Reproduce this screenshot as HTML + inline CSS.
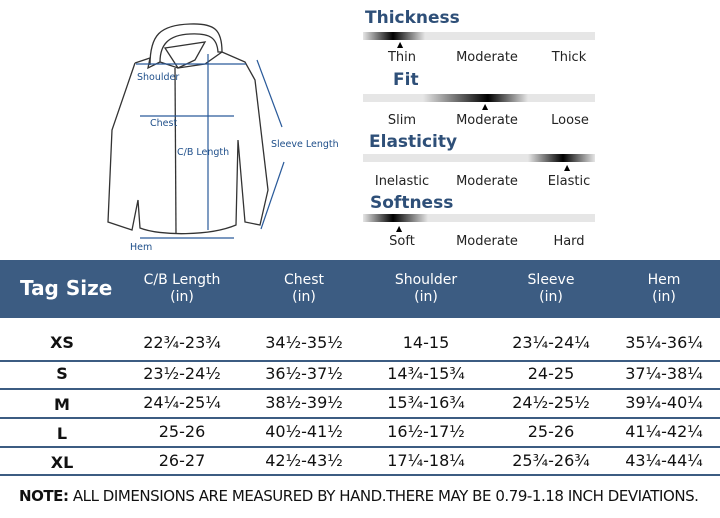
<!DOCTYPE html>
<html><head><meta charset="utf-8"><style>
body{margin:0;width:720px;height:518px;background:#fff;position:relative;overflow:hidden;font-family:"DejaVu Sans","Liberation Sans",sans-serif}
.a{position:absolute;white-space:nowrap}
.h{color:#fff;text-align:center;font-size:14px;line-height:17px;transform:translateX(-50%)}
.c{font-size:16px;color:#111;transform:translateX(-50%);text-align:center}
.t{font-weight:bold;font-size:17px;color:#2e4f78}
.l{font-size:13px;color:#222;transform:translateX(-50%)}
.bar{position:absolute;left:363px;width:232px;height:8px;background:#e6e6e6}
.sep{position:absolute;left:0;width:720px;height:2px;background:#3c5c82}
</style></head><body>
<svg class="a" style="left:0;top:0" width="350" height="258">
<g fill="none" stroke="#333" stroke-width="1.3">
<path d="M150 65 C150 35 160 25 190 24 C215 23 222 30 222 52 L218 52 C217 38 210 33 190 34 C168 35 160 45 160 62"/>
<path d="M165 48 L205 42 L195 60 L178 68 Z"/>
<path d="M135 63 L150 58 L148 68 L160 62 L178 68 L205 64 L222 52 L245 62 L255 80 L268 190 L260 225 L245 222 L238 140 L236 225 C210 236 160 236 140 228 L138 200 L132 230 L108 222 L112 130 L135 63"/>
<path d="M175 68 L176 234"/>
</g>
<g stroke="#2a5a9a" stroke-width="1.2" fill="#2a5a9a">
<line x1="136" y1="64" x2="246" y2="64"/>
<line x1="140" y1="116" x2="234" y2="116"/>
<line x1="208" y1="54" x2="208" y2="230"/>
<line x1="140" y1="238" x2="234" y2="238"/>
<line x1="257" y1="60" x2="282" y2="127"/>
<line x1="284" y1="162" x2="261" y2="229"/>
</g>
<g font-size="9.5" fill="#1f4f8a" font-family="DejaVu Sans,sans-serif">
<text x="137" y="80">Shoulder</text><text x="150" y="126">Chest</text>
<text x="177" y="155">C/B Length</text><text x="271" y="147">Sleeve Length</text>
<text x="130" y="250">Hem</text></g>
</svg>
<div class="a t" style="left:365px;top:8px">Thickness</div>
<div class="bar" style="top:32px;background:linear-gradient(90deg,#e6e6e6 0px,#000 30px,#e6e6e6 62px,#e6e6e6)"></div>
<div class="a" style="left:397px;top:40px;font-size:8px">▲</div>
<div class="a l" style="left:402px;top:50px">Thin</div><div class="a l" style="left:487px;top:50px">Moderate</div><div class="a l" style="left:569px;top:50px">Thick</div>
<div class="a t" style="left:393px;top:70px">Fit</div>
<div class="bar" style="top:94px;background:linear-gradient(90deg,#e6e6e6 60px,#000 125px,#e6e6e6 165px,#e6e6e6)"></div>
<div class="a" style="left:482px;top:102px;font-size:8px">▲</div>
<div class="a l" style="left:402px;top:113px">Slim</div><div class="a l" style="left:487px;top:113px">Moderate</div><div class="a l" style="left:570px;top:113px">Loose</div>
<div class="a t" style="left:369px;top:132px">Elasticity</div>
<div class="bar" style="top:154px;background:linear-gradient(90deg,#e6e6e6 165px,#000 200px,#e6e6e6 232px)"></div>
<div class="a" style="left:564px;top:163px;font-size:8px">▲</div>
<div class="a l" style="left:402px;top:174px">Inelastic</div><div class="a l" style="left:487px;top:174px">Moderate</div><div class="a l" style="left:569px;top:174px">Elastic</div>
<div class="a t" style="left:370px;top:193px">Softness</div>
<div class="bar" style="top:214px;background:linear-gradient(90deg,#e6e6e6 0px,#000 30px,#e6e6e6 65px,#e6e6e6)"></div>
<div class="a" style="left:396px;top:224px;font-size:8px">▲</div>
<div class="a l" style="left:402px;top:234px">Soft</div><div class="a l" style="left:487px;top:234px">Moderate</div><div class="a l" style="left:569px;top:234px">Hard</div>

<div class="a" style="left:0;top:260px;width:720px;height:58px;background:#3c5c82"></div>
<div class="a" style="left:20px;top:276px;color:#fff;font-weight:bold;font-size:20px">Tag Size</div>
<div class="a h" style="left:182px;top:272px">C/B Length<br>(in)</div>
<div class="a h" style="left:304px;top:272px">Chest<br>(in)</div>
<div class="a h" style="left:426px;top:272px">Shoulder<br>(in)</div>
<div class="a h" style="left:551px;top:272px">Sleeve<br>(in)</div>
<div class="a h" style="left:664px;top:272px">Hem<br>(in)</div>
<div class="sep" style="top:360px"></div><div class="sep" style="top:388px"></div><div class="sep" style="top:417px"></div><div class="sep" style="top:446px"></div><div class="sep" style="top:474px"></div>
<div class="a c" style="left:62px;top:333px;font-weight:bold">XS</div><div class="a c" style="left:182px;top:333px">22¾-23¾</div><div class="a c" style="left:304px;top:333px">34½-35½</div><div class="a c" style="left:426px;top:333px">14-15</div><div class="a c" style="left:551px;top:333px">23¼-24¼</div><div class="a c" style="left:664px;top:333px">35¼-36¼</div>
<div class="a c" style="left:62px;top:364px;font-weight:bold">S</div><div class="a c" style="left:182px;top:364px">23½-24½</div><div class="a c" style="left:304px;top:364px">36½-37½</div><div class="a c" style="left:426px;top:364px">14¾-15¾</div><div class="a c" style="left:551px;top:364px">24-25</div><div class="a c" style="left:664px;top:364px">37¼-38¼</div>
<div class="a c" style="left:62px;top:395px;font-weight:bold">M</div><div class="a c" style="left:182px;top:393px">24¼-25¼</div><div class="a c" style="left:304px;top:393px">38½-39½</div><div class="a c" style="left:426px;top:393px">15¾-16¾</div><div class="a c" style="left:551px;top:393px">24½-25½</div><div class="a c" style="left:664px;top:393px">39¼-40¼</div>
<div class="a c" style="left:62px;top:424px;font-weight:bold">L</div><div class="a c" style="left:182px;top:422px">25-26</div><div class="a c" style="left:304px;top:422px">40½-41½</div><div class="a c" style="left:426px;top:422px">16½-17½</div><div class="a c" style="left:551px;top:422px">25-26</div><div class="a c" style="left:664px;top:422px">41¼-42¼</div>
<div class="a c" style="left:62px;top:453px;font-weight:bold">XL</div><div class="a c" style="left:182px;top:451px">26-27</div><div class="a c" style="left:304px;top:451px">42½-43½</div><div class="a c" style="left:426px;top:451px">17¼-18¼</div><div class="a c" style="left:551px;top:451px">25¾-26¾</div><div class="a c" style="left:664px;top:451px">43¼-44¼</div>
<div class="a" style="left:19px;top:487px;font-size:15px;color:#111;letter-spacing:-0.45px"><b>NOTE:</b> ALL DIMENSIONS ARE MEASURED BY HAND.THERE MAY BE 0.79-1.18 INCH DEVIATIONS.</div>
</body></html>
